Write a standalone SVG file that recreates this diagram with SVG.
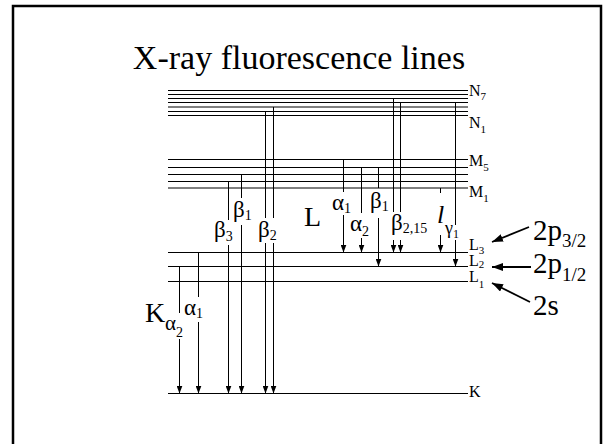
<svg xmlns="http://www.w3.org/2000/svg" width="604" height="444" viewBox="0 0 604 444">
<defs>
<marker id="ah" markerUnits="userSpaceOnUse" markerWidth="8" markerHeight="6" refX="8" refY="3" orient="auto"><path d="M0,0L8,3L0,6z" fill="#000"/></marker>
<marker id="ah2" markerUnits="userSpaceOnUse" markerWidth="11" markerHeight="8" refX="11" refY="4" orient="auto"><path d="M0,0L11,4L0,8z" fill="#000"/></marker>
</defs>
<rect x="13" y="6" width="588" height="460" fill="#fff" stroke="#000" stroke-width="2.5"/>
<text font-family="Liberation Serif, serif" x="299" y="69" font-size="34" text-anchor="middle">X-ray fluorescence lines</text>
<g id="shell-N">
<g stroke="#000" stroke-width="1">
<line x1="168" y1="90.5" x2="468" y2="90.5"/>
<line x1="168" y1="94.5" x2="468" y2="94.5"/>
<line x1="168" y1="98.5" x2="468" y2="98.5"/>
<line x1="168" y1="102.5" x2="468" y2="102.5"/>
<line x1="168" y1="107" x2="468" y2="107"/>
<line x1="168" y1="111.5" x2="468" y2="111.5"/>
<line x1="168" y1="115.5" x2="468" y2="115.5"/>
</g>
<text font-family="Liberation Serif, serif" font-size="16" x="469" y="96">N<tspan font-size="11" dy="4">7</tspan></text>
<text font-family="Liberation Serif, serif" font-size="16" x="469" y="128">N<tspan font-size="11" dy="5">1</tspan></text>
</g>
<g id="shell-M">
<g stroke="#000" stroke-width="1">
<line x1="168" y1="159.5" x2="468" y2="159.5"/>
<line x1="168" y1="167.5" x2="468" y2="167.5"/>
<line x1="168" y1="174.5" x2="468" y2="174.5"/>
<line x1="168" y1="181.5" x2="468" y2="181.5"/>
<line x1="168" y1="188" x2="468" y2="188"/>
</g>
<text font-family="Liberation Serif, serif" font-size="16" x="469" y="166">M<tspan font-size="11" dy="5">5</tspan></text>
<text font-family="Liberation Serif, serif" font-size="16" x="469" y="197">M<tspan font-size="11" dy="5">1</tspan></text>
</g>
<g id="level-L3">
<line stroke="#000" x1="168" y1="252.5" x2="468" y2="252.5"/>
<text font-family="Liberation Serif, serif" font-size="16" x="469" y="250">L<tspan font-size="11" dy="4">3</tspan></text>
</g>
<g id="level-L2">
<line stroke="#000" x1="168" y1="266.5" x2="468" y2="266.5"/>
<text font-family="Liberation Serif, serif" font-size="16" x="469" y="266">L<tspan font-size="11" dy="2">2</tspan></text>
</g>
<g id="level-L1">
<line stroke="#000" x1="168" y1="281.5" x2="468" y2="281.5"/>
<text font-family="Liberation Serif, serif" font-size="16" x="469" y="282">L<tspan font-size="11" dy="6">1</tspan></text>
</g>
<g id="level-K">
<line stroke="#000" x1="168" y1="393.5" x2="468" y2="393.5"/>
<text font-family="Liberation Serif, serif" font-size="16" x="469" y="397">K</text>
</g>
<g id="connectors" stroke="#000" stroke-width="1" fill="none">
<path marker-end="url(#ah)" d="M179.5 266.5V313M179.5 339V393.5"/>
<path marker-end="url(#ah)" d="M198.5 252.5V297M198.5 322V393.5"/>
<path marker-end="url(#ah)" d="M228.5 181.5V220M228.5 245V393.5"/>
<path marker-end="url(#ah)" d="M241.5 174.5V198M241.5 225V393.5"/>
<path marker-end="url(#ah)" d="M265.5 111.5V218M265.5 243V393.5"/>
<path marker-end="url(#ah)" d="M273.5 107V218M273.5 243V393.5"/>
<path marker-end="url(#ah)" d="M343.5 159.5V192M343.5 215V252.5"/>
<path marker-end="url(#ah)" d="M361.5 167.5V213M361.5 238V252.5"/>
<path marker-end="url(#ah)" d="M378.5 167.5V188M378.5 218V266.5"/>
<path marker-end="url(#ah)" d="M393.5 98.5V212M393.5 240V252.5"/>
<path marker-end="url(#ah)" d="M400.5 102.5V212M400.5 240V252.5"/>
<path marker-end="url(#ah)" d="M440.5 188V193M440.5 235V252.5"/>
<path marker-end="url(#ah)" d="M455.5 102.5V225M455.5 240V266.5"/>
<line stroke-width="1.8" x1="529" y1="227" x2="492" y2="242" marker-end="url(#ah2)"/>
<line stroke-width="1.8" x1="531" y1="267" x2="492" y2="267" marker-end="url(#ah2)"/>
<line stroke-width="1.8" x1="530" y1="302" x2="492" y2="283" marker-end="url(#ah2)"/>
</g>
<g id="label-K-series">
<text font-family="Liberation Serif, serif" font-size="28" x="145" y="322">K</text>
<text font-family="Liberation Serif, serif" x="165" y="330" font-size="21">α<tspan font-size="14" dy="7">2</tspan></text>
<text font-family="Liberation Serif, serif" font-size="23" x="184" y="315">α<tspan font-size="14" dy="3">1</tspan></text>
<text font-family="Liberation Serif, serif" font-size="23" x="214" y="237">β<tspan font-size="14" dy="4">3</tspan></text>
<text font-family="Liberation Serif, serif" font-size="23" x="233" y="217">β<tspan font-size="14" dy="3">1</tspan></text>
<text font-family="Liberation Serif, serif" font-size="23" x="258" y="237">β<tspan font-size="14" dy="3">2</tspan></text>
</g>
<g id="label-L-series">
<text font-family="Liberation Serif, serif" font-size="28" x="304" y="226">L</text>
<text font-family="Liberation Serif, serif" font-size="23" x="332" y="210">α<tspan font-size="14" dy="3">1</tspan></text>
<text font-family="Liberation Serif, serif" font-size="23" x="350" y="231">α<tspan font-size="14" dy="5">2</tspan></text>
<text font-family="Liberation Serif, serif" font-size="23" x="370" y="208">β<tspan font-size="14" dy="3">1</tspan></text>
<text font-family="Liberation Serif, serif" font-size="23" x="391" y="230">β<tspan font-size="14" dy="3">2,15</tspan></text>
<text font-family="Liberation Serif, serif" x="437" y="223" font-size="26" font-style="italic">l</text>
<text font-family="Liberation Serif, serif" x="445" y="234" font-size="18">γ<tspan font-size="12" dy="4">1</tspan></text>
</g>
<g id="label-2p32"><text font-family="Liberation Serif, serif" font-size="29" x="533" y="240">2p<tspan font-size="19" dy="7">3/2</tspan></text></g>
<g id="label-2p12"><text font-family="Liberation Serif, serif" font-size="29" x="533" y="273">2p<tspan font-size="19" dy="8">1/2</tspan></text></g>
<g id="label-2s"><text font-family="Liberation Serif, serif" font-size="29" x="533" y="315">2s</text></g>
</svg>
